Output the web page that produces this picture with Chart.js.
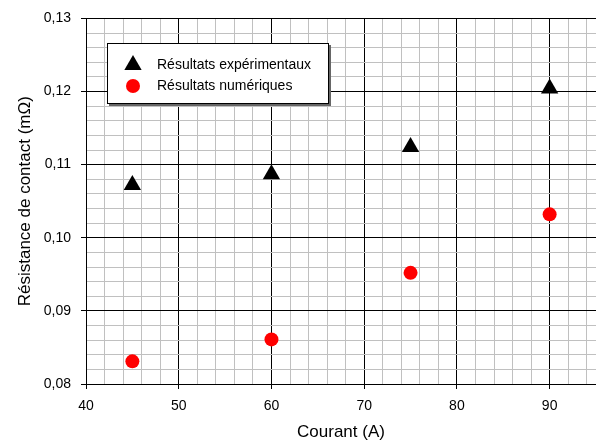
<!DOCTYPE html>
<html>
<head>
<meta charset="utf-8">
<script src="https://cdn.jsdelivr.net/npm/chart.js@4/dist/chart.umd.min.js"></script>
<style>
  html, body { margin: 0; padding: 0; background: #fff; }
  #c { display: block; }
</style>
</head>
<body>
<canvas id="c" width="596" height="443"></canvas>
<script>
// courant (A)
var courant = [45, 60, 75, 90];
// resistance de contact (mOhm)
var experimentaux = [0.1072, 0.1087, 0.1124, 0.1204];
var numeriques = [0.0831, 0.0861, 0.0952, 0.1032];
var labelExp = 'Résultats expérimentaux';
var labelNum = 'Résultats numériques';
var xMin = 40, xMax = 95, xMajor = 10, xMinor = 2;
var yMin = 0.08, yMax = 0.13, yMajor = 0.01, yMinor = 0.002;

var FONT = 'Arial, "Liberation Sans", sans-serif';

function pts(ys) {
    return courant.map(function (x, i) { return { x: x, y: ys[i] }; });
}
function isMult(v, step) {
    var r = v / step;
    return Math.abs(r - Math.round(r)) < 1e-6;
}

// legend drawn inside the plot, like the original
var boxLegend = {
    id: 'boxLegend',
    afterDatasetsDraw: function (chart) {
        var ctx = chart.ctx;
        var x = 107, y = 43, w = 222, h = 61;
        ctx.save();
        ctx.fillStyle = '#666';
        ctx.fillRect(x + 2, y + 2, w, h);
        ctx.fillStyle = '#fff';
        ctx.fillRect(x, y, w, h);
        ctx.strokeStyle = '#000';
        ctx.lineWidth = 1;
        ctx.strokeRect(x + 0.5, y + 0.5, w - 1, h - 1);
        ctx.font = '14px ' + FONT;
        ctx.textBaseline = 'middle';
        chart.data.datasets.forEach(function (ds, i) {
            var cy = y + 22 + i * 21;
            ctx.fillStyle = ds.backgroundColor;
            ctx.strokeStyle = ds.borderColor;
            Chart.helpers.drawPoint(ctx, {
                pointStyle: ds.pointStyle,
                radius: ds.pointRadius,
                borderWidth: 0,
                rotation: 0
            }, x + 26, cy);
            ctx.fillStyle = '#000';
            ctx.fillText(ds.label, x + 50, cy);
        });
        ctx.restore();
    }
};

var ctx = document.getElementById('c');
var chart = new Chart(ctx, {
    type: 'scatter',
    data: {
        datasets: [{
            label: labelExp,
            data: pts(experimentaux),
            pointStyle: 'triangle',
            pointRadius: 10,
            backgroundColor: '#000',
            borderColor: '#000',
            borderWidth: 0
        }, {
            label: labelNum,
            data: pts(numeriques),
            pointStyle: 'circle',
            pointRadius: 7,
            backgroundColor: '#ff0000',
            borderColor: '#ff0000',
            borderWidth: 0
        }]
    },
    options: {
        responsive: false,
        animation: false,
        layout: { autoPadding: false, padding: { top: 17, right: 0, left: 0, bottom: 0 } },
        plugins: {
            legend: { display: false },
            tooltip: { enabled: false }
        },
        scales: {
            x: {
                type: 'linear',
                min: xMin,
                max: xMax,
                afterFit: function (s) { s.height = 59; },
                border: { display: true, color: '#000', width: 1 },
                grid: {
                    tickLength: 5,
                    color: function (c) {
                        var v = c.tick.value;
                        if (isMult(v, xMajor)) return '#000';
                        if (isMult(v, xMinor)) return '#c0c0c0';
                        return 'rgba(0,0,0,0)';
                    },
                    tickColor: function (c) {
                        return isMult(c.tick.value, xMajor) ? '#000' : 'rgba(0,0,0,0)';
                    }
                },
                ticks: {
                    stepSize: xMinor,
                    includeBounds: false,
                    autoSkip: false,
                    maxRotation: 0,
                    padding: 9,
                    color: '#000',
                    font: { family: FONT, size: 14 },
                    callback: function (v) {
                        return isMult(v, xMajor) ? String(Math.round(v)) : '';
                    }
                },
                title: {
                    display: true,
                    text: 'Courant (A)',
                    color: '#000',
                    font: { family: FONT, size: 17 },
                    padding: 0
                }
            },
            y: {
                type: 'linear',
                min: yMin,
                max: yMax,
                afterFit: function (s) { s.width = 86; },
                border: { display: true, color: '#000', width: 1 },
                grid: {
                    tickLength: 5,
                    color: function (c) {
                        var v = c.tick.value;
                        if (isMult(v, yMajor)) return '#000';
                        if (isMult(v, yMinor)) return '#c0c0c0';
                        return 'rgba(0,0,0,0)';
                    },
                    tickColor: function (c) {
                        return isMult(c.tick.value, yMajor) ? '#000' : 'rgba(0,0,0,0)';
                    }
                },
                ticks: {
                    stepSize: yMinor,
                    autoSkip: false,
                    padding: 10,
                    color: '#000',
                    font: { family: FONT, size: 14 },
                    callback: function (v) {
                        return isMult(v, yMajor) ? v.toFixed(2).replace('.', ',') : '';
                    }
                },
                title: {
                    display: true,
                    text: 'Résistance de contact (mΩ)',
                    color: '#000',
                    font: { family: FONT, size: 17 },
                    padding: { top: 15, bottom: 0 }
                }
            }
        }
    },
    plugins: [boxLegend]
});
</script>
</body>
</html>
